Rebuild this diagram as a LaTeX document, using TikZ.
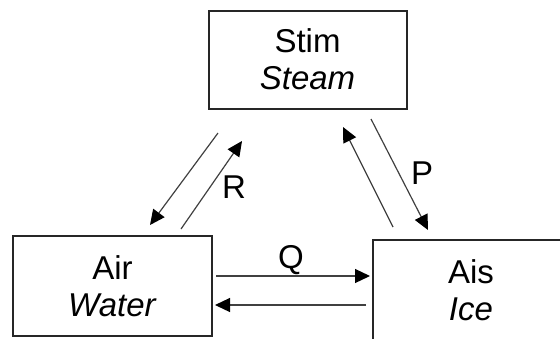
\documentclass[tikz,border=0pt]{standalone}
\usepackage{fontspec}
\setmainfont{Liberation Sans}
\usetikzlibrary{arrows.meta}

\tikzset{
  phase/.style={draw=black!85, line width=1pt, minimum width=99pt, minimum height=49pt,
    align=center, inner sep=0pt, font=\fontsize{16.5}{18.5}\selectfont},
  change/.style={-{Triangle[length=7.5pt,width=7pt,color=black]}, draw=black!75, line width=0.6pt},
  lbl/.style={font=\fontsize{16.5}{18.5}\selectfont, inner sep=0pt}
}

\begin{document}
\begin{tikzpicture}[x=0.5pt,y=-0.5pt]
\useasboundingbox (0,0) rectangle (560,338);
\clip (0,0) rectangle (560,338);
\node[phase] (stim) at (307.5,59.5) {Stim\\\textit{Steam}};
\node[phase, minimum width=99.5pt, minimum height=50pt] (air) at (112.5,286) {Air\\\textit{Water}};
\node[phase, minimum width=98pt, minimum height=50pt] (ais) at (471,290) {Ais\\\textit{Ice}};
% arrow ends
\coordinate (s1) at (218,133);  \coordinate (a1) at (150,225);
\coordinate (a2) at (181,229);  \coordinate (s2) at (242,141);
\coordinate (s3) at (371,119);  \coordinate (i3) at (428,230);
\coordinate (i4) at (393,227);  \coordinate (s4) at (343,127);
\coordinate (a5) at (216,276);  \coordinate (i5) at (370,276);
\coordinate (i6) at (366,305);  \coordinate (a6) at (215,305);
\foreach \from/\to in {s1/a1, a2/s2, s3/i3, i4/s4, a5/i5, i6/a6}
  \draw[change] (\from) -- (\to);
\node[lbl] (r) at (234,187) {R};
\node[lbl] (p) at (422,173) {P};
\node[lbl] (q) at (291,260) {Q};
\end{tikzpicture}
\end{document}
